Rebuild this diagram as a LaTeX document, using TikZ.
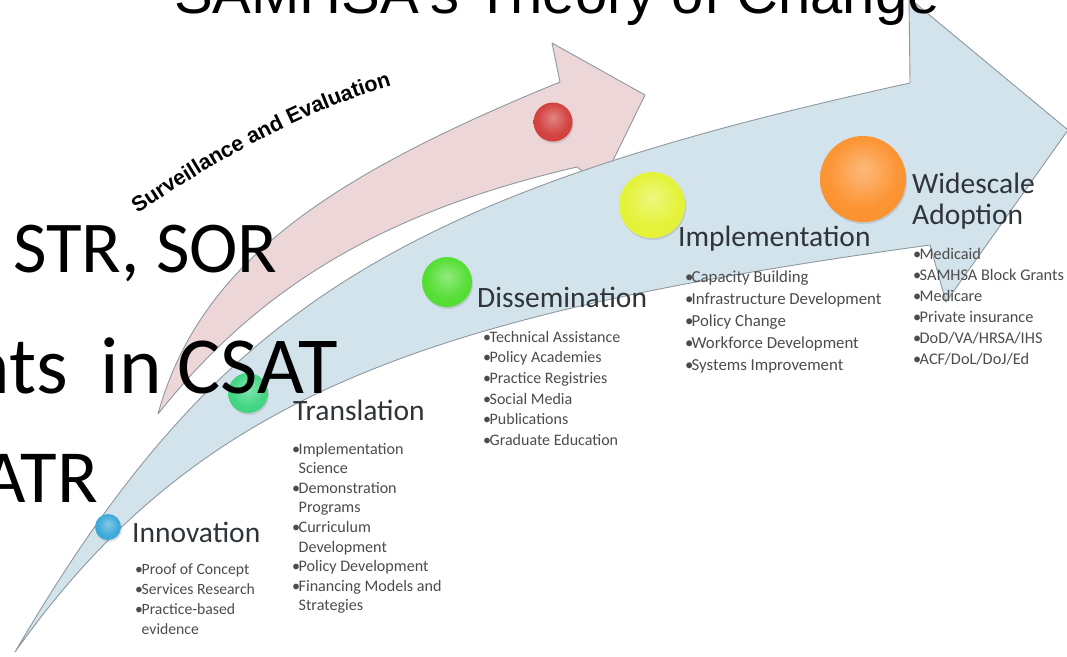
\documentclass[tikz,border=0pt]{standalone}
\usepackage{fontspec}
\setmainfont{Carlito}
\newfontfamily\arialfont{Liberation Sans}
\usetikzlibrary{shadows,decorations.text}

\definecolor{bandblue}{HTML}{D3E3EC}
\definecolor{bandpink}{HTML}{EDD6D8}
\definecolor{edgegray}{HTML}{8E989F}
\definecolor{headtext}{HTML}{2E3438}
\definecolor{itemtext}{HTML}{4C4C4C}
\definecolor{ballred}{HTML}{CF3431}
\definecolor{ballblue}{HTML}{2FA3D6}
\definecolor{ballteal}{HTML}{35D27A}
\definecolor{ballgreen}{HTML}{48DC26}
\definecolor{ballyellow}{HTML}{E2F22A}
\definecolor{ballorange}{HTML}{FB8C24}
\colorlet{ballc}{ballred}

% glossy sphere: light centre, body colour, darker rim
\pgfdeclareradialshading[ballc]{glossy}{\pgfpoint{0bp}{6bp}}{%
  color(0bp)=(ballc!60!white);
  color(20bp)=(ballc!92!white);
  color(40bp)=(ballc);
  color(50bp)=(ballc!72!black)}

\newcommand\glossyball[5]{%
  \begin{scope}
    \colorlet{ballc}{#5}
    \node[orb, minimum size=#4] (#1) at (#2,#3) {};
  \end{scope}}

\newcommand\bl{\makebox[6.5pt][l]{•}}
\newcommand\nb{\hspace*{6.5pt}}

\begin{document}
\begin{tikzpicture}[x=1pt,y=-1pt,
  band/.style={draw=edgegray, line width=0.9pt, line join=round},
  orb/.style={circle, inner sep=0pt, shade, shading=glossy,
    drop shadow={shadow xshift=1pt, shadow yshift=-2pt, opacity=0.25}},
  head/.style={font=\fontsize{29.5}{30}\selectfont, text=headtext, inner sep=0pt, anchor=base west},
  item/.style={font=\fontsize{16}{16}\selectfont, text=itemtext, inner sep=0pt, anchor=base west},
  big/.style={text=black, inner sep=0pt}
]
\useasboundingbox (0,0) rectangle (1067,656);
\clip (0,0) rectangle (1067,656);
\fill[white] (0,0) rectangle (1067,656);

% surveillance arrow (behind)
\draw[band, fill=bandpink] (158,414) .. controls (200,262) and (330,176) .. (560,82)
  -- (552,43) -- (645,95) -- (601,185) -- (577,167)
  .. controls (387,211) and (260,285) .. (158,414) -- cycle;

% main arrow
\draw[band, fill=bandblue] (15,652) .. controls (215,310) and (394,196) .. (910,83)
  -- (909,-2) -- (1068,130) -- (946,302) -- (930,245)
  .. controls (428,314) and (199,393) .. (15,652) -- cycle;

% stage markers
\glossyball{redball}{553}{122}{39pt}{ballred}
\glossyball{innball}{108}{527}{26pt}{ballblue}
\glossyball{transball}{248}{393}{40pt}{ballteal}
\glossyball{dissball}{447}{282}{50pt}{ballgreen}
\glossyball{implball}{652}{205}{66pt}{ballyellow}
\glossyball{wideball}{863}{179}{86pt}{ballorange}

% stage titles
\node[head] (innovation) at (132,542) {Innovation};
\node[head] (translation) at (293,420) {Translation};
\node[head] (dissemination) at (477,307) {Dissemination};
\node[head] (implementation) at (678,246) {Implementation};
\node[head] (widescale) at (912,193) {Widescale};
\node[head] (adoption) at (912,224) {Adoption};

% stage items
\foreach \txt [count=\i] in {{\bl Proof of Concept},{\bl Services Research},{\bl Practice-based},{\nb evidence}}
  \node[item, font=\fontsize{15.7}{16}\selectfont] (inn-\i) at (135,{574+20*(\i-1)}) {\txt};
\foreach \txt [count=\i] in {{\bl Implementation},{\nb Science},{\bl Demonstration},{\nb Programs},{\bl Curriculum},{\nb Development},{\bl Policy Development},{\bl Financing Models and},{\nb Strategies}}
  \node[item, font=\fontsize{16.1}{16}\selectfont] (tra-\i) at (292,{454+19.6*(\i-1)}) {\txt};
\foreach \txt [count=\i] in {{\bl Technical Assistance},{\bl Policy Academies},{\bl Practice Registries},{\bl Social Media},{\bl Publications},{\bl Graduate Education}}
  \node[item] (dis-\i) at (483,{342+20.7*(\i-1)}) {\txt};
\foreach \txt [count=\i] in {{\bl Capacity Building},{\bl Infrastructure Development},{\bl Policy Change},{\bl Workforce Development},{\bl Systems Improvement}}
  \node[item, font=\fontsize{16.8}{17}\selectfont] (imp-\i) at (685,{282+22*(\i-1)}) {\txt};
\foreach \txt [count=\i] in {{\bl Medicaid},{\bl SAMHSA Block Grants},{\bl Medicare},{\bl Private insurance},{\bl DoD/VA/HRSA/IHS},{\bl ACF/DoL/DoJ/Ed}}
  \node[item, font=\fontsize{16.3}{16}\selectfont] (wid-\i) at (913,{259+21*(\i-1)}) {\txt};

% arched label over the surveillance arrow
\path[decorate, decoration={text along path, text align=center,
  text={|\arialfont\bfseries\fontsize{21.5}{21.5}\selectfont|Surveillance and Evaluation}}]
  (133,217) .. controls (212,163) and (300,112) .. (397,84);

% heading
\node[font=\arialfont\fontsize{58}{58}\selectfont, anchor=base west, inner sep=0pt] (title) at (174,13) {SAMHSA's Theory of Change};

% overlaid large text
\node[big, font=\fontsize{73}{73}\selectfont, anchor=base west] (str) at (13,272) {STR, SOR};
\node[big, font=\fontsize{81}{81}\selectfont, anchor=base east] (csat) at (338,393) {nts\hspace{0.4em}in\hspace{0.2em}CSAT};
\node[big, font=\fontsize{75}{75}\selectfont, anchor=base east] (atr) at (98,502) {ATR};
\end{tikzpicture}
\end{document}
